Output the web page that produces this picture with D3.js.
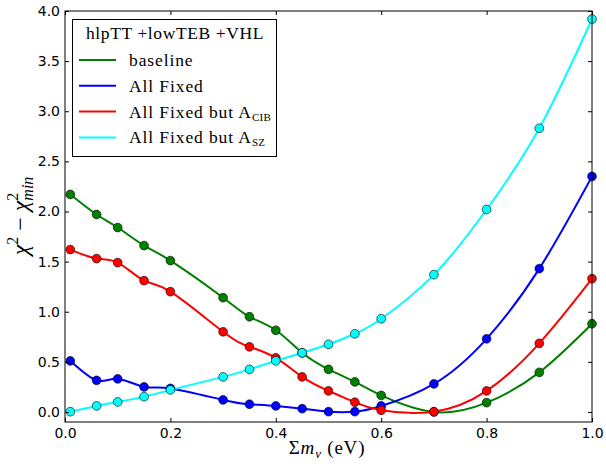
<!DOCTYPE html>
<html>
<head>
<meta charset="utf-8">
<title>chi2 vs sum of neutrino masses</title>
<script src="https://d3js.org/d3.v7.min.js"></script>
<style>
  body { margin: 0; background: #fff; }
  .tick text { font-family: "DejaVu Sans", sans-serif; font-size: 14px; }
  .serif { font-family: "Liberation Serif", serif; }
</style>
</head>
<body>
<svg width="606" height="466"></svg>
<script>
// masses (eV) where the chains were run
var masses = [0.01, 0.06, 0.1, 0.15, 0.2, 0.3, 0.35, 0.4, 0.45, 0.5, 0.55, 0.6, 0.7, 0.8, 0.9, 1.0];

var baseline    = [2.17, 1.97, 1.84, 1.66, 1.51, 1.14, 0.95, 0.815, 0.59, 0.425, 0.30, 0.165, 0.0, 0.093, 0.395, 0.88];
var allFixed    = [0.51, 0.315, 0.33, 0.25, 0.235, 0.12, 0.077, 0.06, 0.033, 0.003, 0.003, 0.06, 0.28, 0.73, 1.43, 2.35];
var fixedButCIB = [1.62, 1.53, 1.49, 1.31, 1.20, 0.80, 0.65, 0.54, 0.35, 0.21, 0.097, 0.017, 0.003, 0.21, 0.685, 1.33];
var fixedButSZ  = [0.003, 0.06, 0.10, 0.153, 0.22, 0.35, 0.425, 0.51, 0.59, 0.675, 0.78, 0.93, 1.37, 2.02, 2.83, 3.92];

var xTicks = [0, 0.2, 0.4, 0.6, 0.8, 1.0];
var yTicks = [0, 0.5, 1.0, 1.5, 2.0, 2.5, 3.0, 3.5, 4.0];

var series = [
  { name: "baseline", sub: "", values: baseline, color: "#008000" },
  { name: "All Fixed", sub: "", values: allFixed, color: "#0000ff" },
  { name: "All Fixed but A", sub: "CIB", values: fixedButCIB, color: "#ff0000" },
  { name: "All Fixed but A", sub: "SZ", values: fixedButSZ, color: "#00ffff" }
];

var svg = d3.select("svg");
var pL = 65, pR = 592, pT = 11, pB = 422;

var x = d3.scaleLinear().domain([0, 1]).range([pL, pR]);
var y = d3.scaleLinear().domain([-0.1, 4.0]).range([pB, pT]);

svg.append("clipPath").attr("id", "plotclip")
  .append("rect").attr("x", pL).attr("y", pT)
  .attr("width", pR - pL).attr("height", pB - pT);

// curves and markers
var line = d3.line()
  .x(function (d) { return x(d[0]); })
  .y(function (d) { return y(d[1]); })
  .curve(d3.curveNatural);

var plot = svg.append("g").attr("clip-path", "url(#plotclip)");

series.forEach(function (s) {
  var pts = masses.map(function (m, i) { return [m, s.values[i]]; });
  plot.append("path")
    .attr("d", line(pts))
    .attr("fill", "none")
    .attr("stroke", s.color)
    .attr("stroke-width", 2);
});

series.forEach(function (s) {
  var pts = masses.map(function (m, i) { return [m, s.values[i]]; });
  svg.append("g").selectAll("circle")
    .data(pts)
    .enter().append("circle")
    .attr("cx", function (d) { return x(d[0]); })
    .attr("cy", function (d) { return y(d[1]); })
    .attr("r", 4.4)
    .attr("fill", s.color)
    .attr("stroke", "#000")
    .attr("stroke-width", 0.6);
});

// axes, ticks pointing inward on all four sides
var fmt = d3.format(".1f");
svg.append("g").attr("transform", "translate(0," + pB + ")")
  .call(d3.axisBottom(x).tickValues(xTicks).tickFormat(fmt).tickSizeInner(-4).tickSizeOuter(0).tickPadding(6));
svg.append("g").attr("transform", "translate(0," + pT + ")")
  .call(d3.axisTop(x).tickValues(xTicks).tickFormat("").tickSizeInner(-4).tickSizeOuter(0));
svg.append("g").attr("transform", "translate(" + pL + ",0)")
  .call(d3.axisLeft(y).tickValues(yTicks).tickFormat(fmt).tickSizeInner(-4).tickSizeOuter(0).tickPadding(5));
svg.append("g").attr("transform", "translate(" + pR + ",0)")
  .call(d3.axisRight(y).tickValues(yTicks).tickFormat("").tickSizeInner(-4).tickSizeOuter(0));

svg.selectAll(".domain").remove();
svg.selectAll(".tick line").attr("stroke", "#000");
svg.selectAll(".tick text").attr("fill", "#000");

svg.append("rect")
  .attr("x", pL).attr("y", pT)
  .attr("width", pR - pL).attr("height", pB - pT)
  .attr("fill", "none").attr("stroke", "#000").attr("stroke-width", 1);

// x label
var xl = svg.append("text").attr("class", "serif")
  .attr("x", 327).attr("y", 454)
  .attr("text-anchor", "middle").attr("font-size", 19).attr("letter-spacing", 0.8);
xl.append("tspan").text("Σ");
xl.append("tspan").attr("font-style", "italic").text("m");
xl.append("tspan").attr("font-style", "italic").attr("font-size", 13).attr("dy", 4).text("ν");
xl.append("tspan").attr("dy", -4).text(" (eV)");

// y label
var yl = svg.append("text").attr("class", "serif")
  .attr("transform", "translate(28,216) rotate(-90)")
  .attr("text-anchor", "middle").attr("font-size", 24);
yl.append("tspan").attr("font-style", "italic").text("χ");
yl.append("tspan").attr("font-size", 16).attr("dy", -10).text("2");
yl.append("tspan").attr("dy", 10).text(" − ");
yl.append("tspan").attr("font-style", "italic").text("χ");
var sup = yl.append("tspan").attr("font-size", 16).attr("dy", -10).text("2");
var subDx = -sup.node().getComputedTextLength();
yl.append("tspan").attr("font-size", 16).attr("font-style", "italic")
  .attr("dx", subDx).attr("dy", 15).text("min");

// legend
var lg = svg.append("g").attr("class", "serif");
lg.append("rect")
  .attr("x", 72.5).attr("y", 19.5).attr("width", 204).attr("height", 137)
  .attr("fill", "#fff").attr("stroke", "#000").attr("stroke-width", 1);
lg.append("text")
  .attr("x", 175).attr("y", 39).attr("text-anchor", "middle")
  .attr("font-size", 17.5).attr("letter-spacing", 0.6).text("hlpTT +lowTEB +VHL");
series.forEach(function (s, i) {
  var yy = 60 + i * 25.8;
  lg.append("line")
    .attr("x1", 79).attr("x2", 116).attr("y1", yy).attr("y2", yy)
    .attr("stroke", s.color).attr("stroke-width", 2);
  var t = lg.append("text")
    .attr("x", 129).attr("y", yy + 6).attr("font-size", 17.5).attr("letter-spacing", 0.9);
  t.append("tspan").text(s.name);
  if (s.sub) {
    t.append("tspan").attr("font-size", 11).attr("letter-spacing", 0.3).attr("dy", 3).text(s.sub);
  }
});
</script>
</body>
</html>
